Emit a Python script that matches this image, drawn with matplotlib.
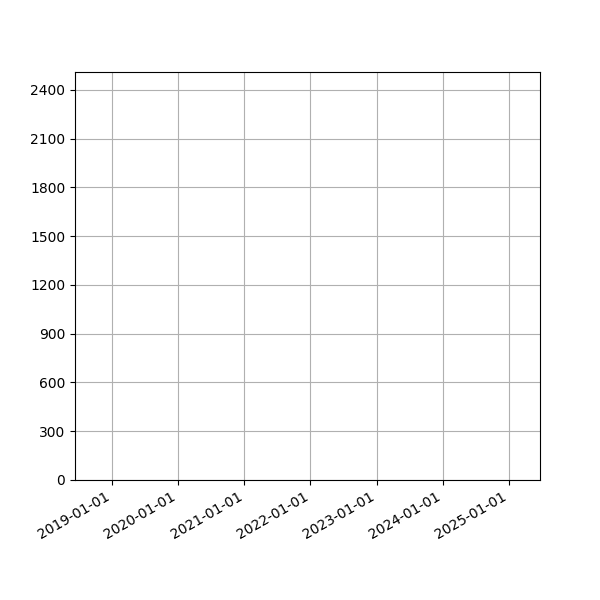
import numpy as np
import pandas as pd
import matplotlib
matplotlib.use("Agg")
import matplotlib.pyplot as plt
import matplotlib.dates as mdates

# the reference shows no plotted series, only the frame
dates = pd.to_datetime([])
values = []

x_start = "2018-06-10"
x_end = "2025-06-22"
y_max = 2510
y_ticks = np.arange(0, 2401, 300)

fig, ax = plt.subplots(figsize=(6, 6), dpi=100)
ax.plot(dates, values)

ax.set_xlim(pd.Timestamp(x_start), pd.Timestamp(x_end))
ax.set_ylim(0, y_max)
ax.set_yticks(y_ticks)
ax.xaxis.set_major_locator(mdates.YearLocator())
ax.xaxis.set_major_formatter(mdates.DateFormatter("%Y-%m-%d"))
ax.grid(True)
fig.autofmt_xdate()

fig.savefig("out.png", dpi=100)
